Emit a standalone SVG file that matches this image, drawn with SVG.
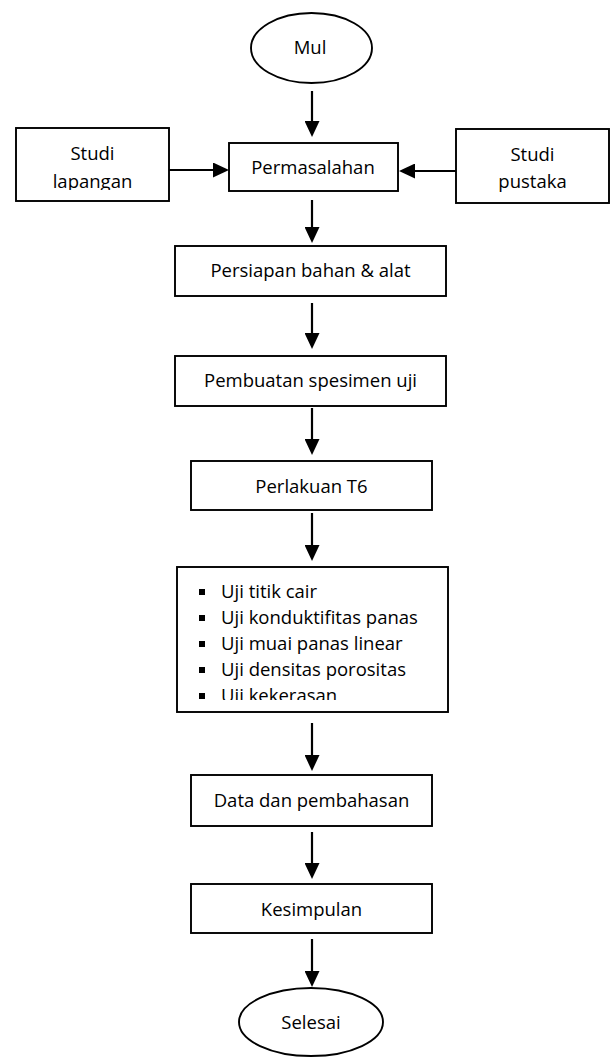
<svg xmlns="http://www.w3.org/2000/svg" width="615" height="1057" viewBox="0 0 615 1057">
<style>
.box{fill:#fff;stroke:#000;stroke-width:1.9}
.t{font-family:"Open Sans","Noto Sans","Liberation Sans",sans-serif;font-size:18.5px;fill:#000;text-anchor:middle}
.tl{font-family:"Open Sans","Noto Sans","Liberation Sans",sans-serif;font-size:18.5px;fill:#000}
.c{fill:none;stroke:#000;stroke-width:2.2}
.b{fill:#000}
</style>
<defs>
<marker id="ah" viewBox="0 0 16 15" markerWidth="16" markerHeight="15" refX="8" refY="7.5" orient="auto" markerUnits="userSpaceOnUse">
<path d="M0,0 L16,7.5 L0,15 z" fill="#000"/>
</marker>
<clipPath id="clipLap"><rect x="16" y="128" width="153" height="62"/></clipPath>
<clipPath id="clipList"><rect x="177" y="567" width="271" height="133"/></clipPath>
</defs>
<rect width="615" height="1057" fill="#fff"/>
<g id="connectors">
<line class="c" x1="312" y1="91" x2="312" y2="129" marker-end="url(#ah)"/>
<line class="c" x1="169" y1="170" x2="221" y2="170" marker-end="url(#ah)"/>
<line class="c" x1="456" y1="171" x2="407" y2="171" marker-end="url(#ah)"/>
<line class="c" x1="312" y1="200" x2="312" y2="235" marker-end="url(#ah)"/>
<line class="c" x1="312" y1="303" x2="312" y2="341" marker-end="url(#ah)"/>
<line class="c" x1="312" y1="408" x2="312" y2="447" marker-end="url(#ah)"/>
<line class="c" x1="312" y1="513" x2="312" y2="553" marker-end="url(#ah)"/>
<line class="c" x1="312" y1="723" x2="312" y2="763" marker-end="url(#ah)"/>
<line class="c" x1="312" y1="832" x2="312" y2="871" marker-end="url(#ah)"/>
<line class="c" x1="312" y1="939" x2="312" y2="979" marker-end="url(#ah)"/>
</g>
<g id="mul">
<ellipse class="box" cx="311.5" cy="48" rx="60.5" ry="35"/>
<text class="t" x="310" y="54">Mul</text>
</g>
<g id="studi-lapangan">
<rect class="box" x="16" y="128" width="153" height="73"/>
<text class="t" x="92.5" y="160">Studi</text>
<text class="t" x="92.5" y="188" clip-path="url(#clipLap)">lapangan</text>
</g>
<g id="permasalahan">
<rect class="box" x="229" y="143" width="169" height="48"/>
<text class="t" x="313" y="174">Permasalahan</text>
</g>
<g id="studi-pustaka">
<rect class="box" x="456" y="129" width="153" height="74"/>
<text class="t" x="532.5" y="161">Studi</text>
<text class="t" x="532.5" y="188">pustaka</text>
</g>
<g id="persiapan">
<rect class="box" x="175" y="246" width="271" height="50"/>
<text class="t" x="310.5" y="277">Persiapan bahan &amp; alat</text>
</g>
<g id="pembuatan">
<rect class="box" x="175" y="356" width="271" height="50"/>
<text class="t" x="310.5" y="387">Pembuatan spesimen uji</text>
</g>
<g id="perlakuan">
<rect class="box" x="191" y="461" width="241" height="49"/>
<text class="t" x="311.5" y="493">Perlakuan T6</text>
</g>
<g id="pengujian">
<rect class="box" x="177" y="567" width="271" height="145"/>
<g clip-path="url(#clipList)">
<rect class="b" x="199" y="589" width="6" height="6"/>
<text class="tl" x="221" y="598">Uji titik cair</text>
<rect class="b" x="199" y="615" width="6" height="6"/>
<text class="tl" x="221" y="624">Uji konduktifitas panas</text>
<rect class="b" x="199" y="641" width="6" height="6"/>
<text class="tl" x="221" y="650">Uji muai panas linear</text>
<rect class="b" x="199" y="667" width="6" height="6"/>
<text class="tl" x="221" y="676">Uji densitas porositas</text>
<rect class="b" x="199" y="693" width="6" height="6"/>
<text class="tl" x="221" y="702">Uji kekerasan</text>
</g>
</g>
<g id="data">
<rect class="box" x="191" y="775" width="241" height="51"/>
<text class="t" x="311.5" y="807">Data dan pembahasan</text>
</g>
<g id="kesimpulan">
<rect class="box" x="191" y="884" width="241" height="49"/>
<text class="t" x="311.5" y="916">Kesimpulan</text>
</g>
<g id="selesai">
<ellipse class="box" cx="311" cy="1022" rx="72" ry="34"/>
<text class="t" x="311" y="1029">Selesai</text>
</g>
</svg>
